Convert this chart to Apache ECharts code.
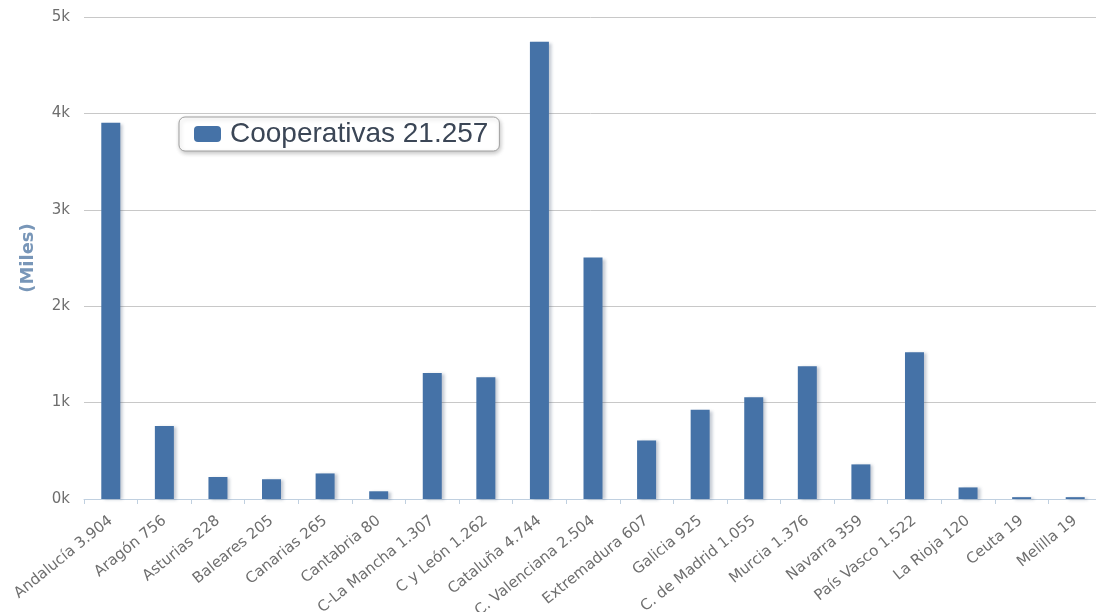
<!DOCTYPE html>
<html>
<head>
<meta charset="utf-8">
<script src="https://cdn.jsdelivr.net/npm/echarts@6/dist/echarts.min.js"></script>
<style>
  html, body { margin: 0; padding: 0; background: #fff; }
  #chart { width: 1096px; height: 612px; }
</style>
</head>
<body>
<div id="chart"></div>
<script>
// Cooperativas por comunidad autónoma
const regions = ['Andalucía', 'Aragón', 'Asturias', 'Baleares', 'Canarias', 'Cantabria',
  'C-La Mancha', 'C y León', 'Cataluña', 'C. Valenciana', 'Extremadura', 'Galicia',
  'C. de Madrid', 'Murcia', 'Navarra', 'País Vasco', 'La Rioja', 'Ceuta', 'Melilla'];
const cooperativas = [3904, 756, 228, 205, 265, 80, 1307, 1262, 4744, 2504, 607, 925,
  1055, 1376, 359, 1522, 120, 19, 19];
const yTicks = [0, 1000, 2000, 3000, 4000, 5000];

// Spanish thousands separator
const fmt = v => String(v).replace(/\B(?=(\d{3})+(?!\d))/g, '.');
const total = cooperativas.reduce((a, b) => a + b, 0);
const categories = regions.map((r, i) => r + ' ' + fmt(cooperativas[i]));
const seriesName = 'Cooperativas ' + fmt(total);

const chart = echarts.init(document.getElementById('chart'));
chart.setOption({
  animation: false,
  backgroundColor: '#ffffff',
  grid: { left: 84, top: 17, width: 1018, height: 482, containLabel: false, outerBoundsMode: 'none' },
  legend: {
    left: 179, top: 117,
    orient: 'horizontal',
    backgroundColor: '#ffffff',
    borderColor: '#a0a0a0', borderWidth: 1, borderRadius: 6,
    shadowColor: 'rgba(0,0,0,0.22)', shadowBlur: 4, shadowOffsetX: 1, shadowOffsetY: 2,
    padding: [3, 11, 3, 15],
    itemWidth: 27, itemHeight: 16,
    textStyle: {
      fontFamily: 'Liberation Sans, Arial, sans-serif', fontSize: 28, color: '#3b4656',
      padding: [0, 0, 0, 4]
    },
    data: [seriesName]
  },
  xAxis: {
    type: 'category',
    data: categories,
    axisLine: { lineStyle: { color: '#c0d0e0', width: 1 } },
    axisTick: { show: true, length: 5, lineStyle: { color: '#c0d0e0' } },
    axisLabel: {
      rotate: 39, interval: 0, margin: 20,
      fontFamily: 'DejaVu Sans, Verdana, sans-serif', fontSize: 15, color: '#6e6e6e'
    }
  },
  yAxis: {
    type: 'value',
    min: yTicks[0], max: yTicks[yTicks.length - 1], interval: 1000,
    name: '(Miles)', nameLocation: 'middle', nameRotate: 90, nameGap: 47,
    nameTextStyle: { fontFamily: 'DejaVu Sans, sans-serif', fontSize: 18, fontWeight: 'bold', color: '#7896b8' },
    axisLine: { show: false },
    axisTick: { show: false },
    axisLabel: {
      margin: 14,
      fontFamily: 'DejaVu Sans, Verdana, sans-serif', fontSize: 15, color: '#6e6e6e',
      formatter: v => (v / 1000) + 'k'
    },
    splitLine: { lineStyle: { color: '#c8c8c8', width: 1 } }
  },
  series: [{
    name: seriesName,
    type: 'bar',
    data: cooperativas,
    barWidth: 19,
    itemStyle: {
      color: '#4572a7',
      shadowColor: 'rgba(60,80,110,0.3)', shadowBlur: 3, shadowOffsetX: 3, shadowOffsetY: 1
    }
  }]
});
</script>
</body>
</html>
